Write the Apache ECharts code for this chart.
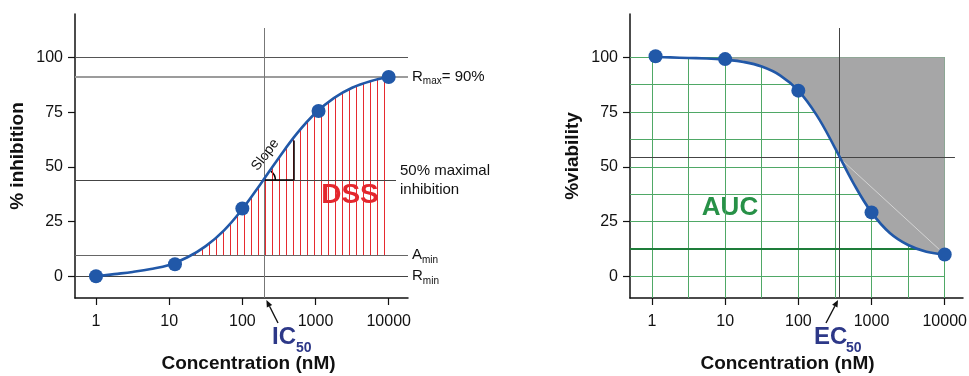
<!DOCTYPE html>
<html>
<head>
<meta charset="utf-8">
<script src="https://cdn.jsdelivr.net/npm/echarts@6/dist/echarts.min.js"></script>
<style>
  html, body, #main { width: 100%; height: 100%; margin: 0; background: #fff; }
</style>
</head>
<body>
<div id="main"></div>
<script>
// x is concentration in nM, drawn on log10 positions
var tickConc = [1, 10, 100, 1000, 10000];
var yTicks = [0, 25, 50, 75, 100];

// left panel, % inhibition
var inhConc = [1, 12, 100, 1100, 10000];
var inhValues = [0, 5.5, 31, 75.5, 91];
var curveLog = [0, 0.25, 0.5, 0.75, 1, 1.25, 1.5, 1.75, 2, 2.25, 2.5, 2.75, 3, 3.25, 3.5, 3.75, 4];
var inhCurve = [0, 1.0, 2.0, 3.3, 5.2, 8.7, 13.8, 21, 30.7, 42.2, 54.2, 65.4, 74.6, 81.4, 86.1, 89.1, 91];
var rMax = 91.3, halfMax = 44, aMin = 9.6, rMin = 0;
var ic50 = 200;
var aMinCross = 1.3;     // log conc where curve meets A_min
var slopeEnd = 2.7, slopeTop = 62;

// right panel, % viability
var viaConc = [1.12, 10, 100, 1000, 10000];
var viaValues = [100.5, 99.2, 84.8, 29.2, 10];
var viaCurve = [100.2, 100, 99.7, 99.5, 98.9, 97.9, 95.8, 91.8, 84.8, 73.6, 58.7, 42.7, 29.2, 19.8, 14.3, 11.2, 10];
var ec50 = 360, ec50Level = 54.3;
var gridConc = [1, 3.16, 10, 31.6, 100, 316, 1000, 3160, 10000];
var gridLevels = [0, 25, 37.5, 50, 62.5, 75, 87.5, 100];
var aucBase = 12.5, aucBaseEnd = 4500;

var lg = function (v) { return Math.log10(v); };
var xMinL = -0.287, xMaxL = 4.264, xMinR = -0.30, xMaxR = 4.25;
var yMin = -9.9, yMax = 119.8, vTop = 113.4;

var hatch = document.createElement('canvas');
hatch.width = 7; hatch.height = 4;
var hctx = hatch.getContext('2d');
hctx.fillStyle = '#e62a2f';
hctx.fillRect(6, 0, 1, 4);

var FONT = 'Liberation Sans, Arial, sans-serif';

function xAxisOpt(idx, min, max) {
  return {
    type: 'value', gridIndex: idx, min: min, max: max,
    name: 'Concentration (nM)', nameLocation: 'middle', nameGap: 56,
    nameTextStyle: { fontSize: 19, fontWeight: 'bold', color: '#111', fontFamily: FONT, padding: idx ? [0, 18, 0, 0] : [0, 0, 0, 14] },
    axisLine: { onZero: false, lineStyle: { color: '#111', width: 1.5 } },
    axisTick: { length: 7, customValues: tickConc.map(lg), lineStyle: { color: '#111', width: 1.2 } },
    axisLabel: {
      customValues: tickConc.map(lg), margin: 16, fontSize: 16, color: '#111', fontFamily: FONT,
      formatter: function (v) { return String(Math.round(Math.pow(10, v))); }
    },
    splitLine: { show: false }
  };
}
function yAxisOpt(idx, name) {
  return {
    type: 'value', gridIndex: idx, min: yMin, max: yMax,
    name: name, nameLocation: 'middle', nameGap: 48,
    nameTextStyle: { fontSize: 19, fontWeight: 'bold', color: '#111', fontFamily: FONT },
    axisLine: { show: true, onZero: false, lineStyle: { color: '#111', width: 1.5 } },
    axisTick: { show: true, length: 7, customValues: yTicks, lineStyle: { color: '#111', width: 1.2 } },
    axisLabel: { customValues: yTicks, margin: 12, fontSize: 16, color: '#111', fontFamily: FONT },
    splitLine: { show: false }
  };
}
function pts(xs, ys) { return xs.map(function (x, i) { return [x, ys[i]]; }); }
function seg(x1, y1, x2, y2, style, label) {
  var d = { coords: [[x1, y1], [x2, y2]], lineStyle: style };
  if (label) d.label = { show: true, formatter: label };
  return d;
}

var inhLine = pts(curveLog, inhCurve);
var hatchData = [[aMinCross, aMin]].concat(inhLine.filter(function (p) { return p[0] > aMinCross + 0.1; }));
var viaLine = pts(curveLog, viaCurve);
var aaData = viaLine.filter(function (p) { return p[0] >= 1; });

var subRich = {
  s: { fontSize: 10, color: '#111', padding: [9, 0, 0, 0], fontFamily: FONT }
};

var leftLines = [
  seg(xMinL, 100, xMaxL, 100, { color: '#555', width: 1 }),
  seg(xMinL, rMax, xMaxL, rMax, { color: '#9c9c9c', width: 2 }, 'R{s|max}= 90%'),
  seg(xMinL, halfMax, 4.1, halfMax, { color: '#444', width: 1 }, '50% maximal\ninhibition'),
  seg(xMinL, aMin, xMaxL, aMin, { color: '#666', width: 1 }, 'A{s|min}'),
  seg(xMinL, rMin, xMaxL, rMin, { color: '#444', width: 1 }, 'R{s|min}'),
  seg(lg(ic50), yMin, lg(ic50), vTop, { color: '#777', width: 1 }),
  seg(lg(ic50), halfMax, slopeEnd, halfMax, { color: '#000', width: 1.5 }),
  seg(slopeEnd, halfMax, slopeEnd, slopeTop, { color: '#000', width: 1.5 })
];

var greenGrid = [];
gridConc.forEach(function (c) {
  greenGrid.push(seg(lg(c), yMin, lg(c), 100, { color: '#4fa866', width: 1 }));
});
gridLevels.forEach(function (v) {
  greenGrid.push(seg(xMinR, v, 4, v, { color: '#4fa866', width: 1 }));
});

var rightLines = [
  seg(xMinR, aucBase, lg(aucBaseEnd), aucBase, { color: '#1e7d3a', width: 2 }),
  seg(lg(ec50), ec50Level, 4, 10, { color: '#d4d4d4', width: 1 }),
  seg(lg(ec50), yMin, lg(ec50), vTop, { color: '#444', width: 1 }),
  seg(xMinR, ec50Level, 4.14, ec50Level, { color: '#444', width: 1 })
];

function linesSeries(idx, data, z) {
  return {
    type: 'lines', coordinateSystem: 'cartesian2d', xAxisIndex: idx, yAxisIndex: idx,
    silent: true, z: z, data: data, clip: false,
    lineStyle: { opacity: 1, type: 'solid' },
    label: { show: false, position: 'end', distance: 4, fontSize: 15, lineHeight: 19, color: '#111', fontFamily: FONT, rich: subRich }
  };
}

var BLUE = '#2158a8';

var chart = echarts.init(document.getElementById('main'));
chart.setOption({
  animation: false,
  textStyle: { fontFamily: FONT },
  grid: [
    { left: 75, top: 14, width: 333, height: 284, containLabel: false, outerBoundsMode: 'none' },
    { left: 630, top: 14, width: 333, height: 284, containLabel: false, outerBoundsMode: 'none' }
  ],
  xAxis: [xAxisOpt(0, xMinL, xMaxL), xAxisOpt(1, xMinR, xMaxR)],
  yAxis: [yAxisOpt(0, '% inhibition'), yAxisOpt(1, '%viability')],
  series: [
    {
      type: 'line', xAxisIndex: 0, yAxisIndex: 0, data: hatchData, smooth: 0.4,
      symbol: 'none', z: 1, silent: true, lineStyle: { width: 0 },
      areaStyle: { origin: aMin, opacity: 1, color: { image: hatch, repeat: 'repeat' } }
    },
    linesSeries(0, leftLines, 2),
    {
      type: 'line', xAxisIndex: 0, yAxisIndex: 0, data: inhLine, smooth: 0.4,
      symbol: 'none', z: 3, lineStyle: { color: BLUE, width: 2.6 }
    },
    {
      type: 'scatter', xAxisIndex: 0, yAxisIndex: 0, z: 4, symbolSize: 14,
      itemStyle: { color: BLUE, opacity: 1 },
      data: inhConc.map(function (c, i) { return [lg(c), inhValues[i]]; })
    },
    linesSeries(1, greenGrid, 1),
    {
      type: 'line', xAxisIndex: 1, yAxisIndex: 1, data: aaData, smooth: 0.4,
      symbol: 'none', z: 2, silent: true, lineStyle: { width: 0 },
      areaStyle: { origin: 100, opacity: 1, color: '#a6a6a7' }
    },
    linesSeries(1, rightLines, 3),
    {
      type: 'line', xAxisIndex: 1, yAxisIndex: 1, data: viaLine, smooth: 0.4,
      symbol: 'none', z: 4, lineStyle: { color: BLUE, width: 2.6 }
    },
    {
      type: 'scatter', xAxisIndex: 1, yAxisIndex: 1, z: 5, symbolSize: 14,
      itemStyle: { color: BLUE, opacity: 1 },
      data: viaConc.map(function (c, i) { return [lg(c), viaValues[i]]; })
    }
  ]
});

// annotations placed from the data positions
var icPt = chart.convertToPixel({ gridIndex: 0 }, [lg(ic50), halfMax]);
var ecPt = chart.convertToPixel({ gridIndex: 1 }, [lg(ec50), yMin]);
var icBase = chart.convertToPixel({ gridIndex: 0 }, [lg(ic50), yMin]);

function arrow(tx, ty, fx, fy) {
  var dx = tx - fx, dy = ty - fy, len = Math.sqrt(dx * dx + dy * dy);
  var ux = dx / len, uy = dy / len, bx = tx - ux * 7, by = ty - uy * 7;
  return [
    { type: 'line', shape: { x1: fx, y1: fy, x2: bx, y2: by }, style: { stroke: '#111', lineWidth: 1.4 } },
    { type: 'polygon', shape: { points: [[tx, ty], [bx - uy * 3, by + ux * 3], [bx + uy * 3, by - ux * 3]] }, style: { fill: '#111' } }
  ];
}

var navy = '#2d3888';
var graphics = [
  { type: 'text', style: { x: 350, y: 195, text: 'DSS', font: 'bold 28px ' + FONT, fill: '#e3262d', align: 'center', verticalAlign: 'middle' } },
  { type: 'text', style: { x: 730, y: 208, text: 'AUC', font: 'bold 26px ' + FONT, fill: '#279147', align: 'center', verticalAlign: 'middle' } },
  { type: 'text', style: { x: 898, y: 130, text: 'AA', font: 'bold 26px ' + FONT, fill: '#333', align: 'center', verticalAlign: 'middle' } },
  { type: 'text', x: icPt[0] + 1, y: icPt[1] - 25, rotation: 0.92, style: { x: 0, y: 0, text: 'Slope', font: '14px ' + FONT, fill: '#111', align: 'center', verticalAlign: 'middle' } },
  { type: 'arc', shape: { cx: icPt[0], cy: icPt[1], r: 11, startAngle: -0.95, endAngle: 0, clockwise: true }, style: { stroke: '#000', lineWidth: 1.6, fill: null } },
  { type: 'text', style: { x: 272, y: 337, text: 'IC', font: 'bold 24px ' + FONT, fill: navy, verticalAlign: 'middle' } },
  { type: 'text', style: { x: 296, y: 348, text: '50', font: 'bold 14px ' + FONT, fill: navy, verticalAlign: 'middle' } },
  { type: 'text', style: { x: 814, y: 337, text: 'EC', font: 'bold 24px ' + FONT, fill: navy, verticalAlign: 'middle' } },
  { type: 'text', style: { x: 846, y: 348, text: '50', font: 'bold 14px ' + FONT, fill: navy, verticalAlign: 'middle' } }
].concat(arrow(icBase[0] + 2, icBase[1] + 2, 278, 323), arrow(ecPt[0] - 1, ecPt[1] + 2, 826, 323));

chart.setOption({ graphic: graphics });
</script>
</body>
</html>
